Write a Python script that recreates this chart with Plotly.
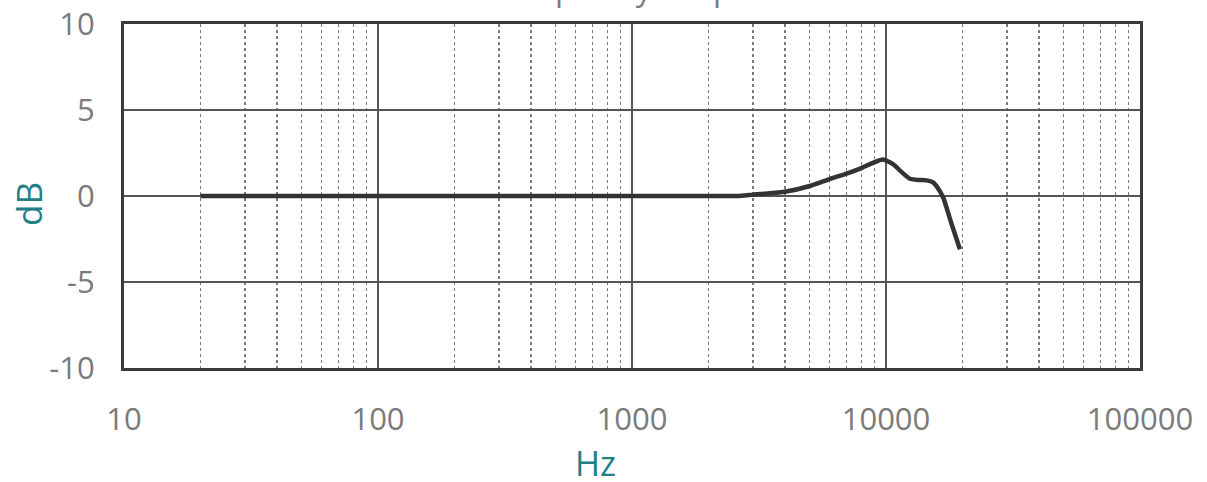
import plotly.graph_objects as go

# Frequency response (Hz, dB)
freq_hz = [20, 50, 100, 300, 1000, 2000, 2590, 3000, 3945, 5020, 6030, 7000, 7910, 8920, 9730,
           10690, 11500, 12420, 13500, 14450, 15300, 15810, 16810, 18000, 19550]
gain_db = [0.0, 0.0, 0.0, 0.0, 0.0, 0.0, 0.0, 0.08, 0.23, 0.58, 1.0, 1.3, 1.59, 1.94, 2.12,
           1.84, 1.4, 1.0, 0.93, 0.91, 0.8, 0.58, -0.1, -1.5, -3.1]

x_tick_vals = [10, 100, 1000, 10000, 100000]
x_tick_text = ["10", "100", "1000", "10000", "100000"]
y_tick_vals = [-10, -5, 0, 5, 10]
y_tick_text = ["-10", "-5", "0", "5", "10"]

title_text = "Frequency Response"
x_title = "Hz"
y_title = "dB"

TEAL = "#227f86"
GREY_TXT = "#7b7b7b"
FONT = "Open Sans, Noto Sans, sans-serif"

fig = go.Figure()
fig.add_trace(go.Scatter(
    x=freq_hz, y=gain_db, mode="lines",
    line=dict(color="#333333", width=4.5, shape="spline", smoothing=0.6),
    hoverinfo="skip", showlegend=False,
))

fig.update_layout(
    width=1207, height=482,
    margin=dict(l=124, r=67, t=24, b=114, autoexpand=False),
    paper_bgcolor="white", plot_bgcolor="white",
    font=dict(family=FONT, color=GREY_TXT, size=31),
    showlegend=False,
    xaxis=dict(
        type="log", range=[1, 5], automargin=False, ticklabeloverflow="allow",
        tickvals=x_tick_vals, ticktext=x_tick_text,
        ticks="outside", ticklen=22, tickcolor="rgba(0,0,0,0)",
        tickfont=dict(size=31, color=GREY_TXT, family=FONT),
        showgrid=True, gridcolor="#5a5a5a", gridwidth=2,
        minor=dict(dtick="D1", showgrid=True, gridcolor="#7a7a7a", griddash="dot", gridwidth=1.5, ticks=""),
        showline=True, linecolor="#3a3a3a", linewidth=3, mirror=True,
        zeroline=False, fixedrange=True,
    ),
    yaxis=dict(
        range=[-10, 10], automargin=False, ticklabeloverflow="allow",
        tickvals=y_tick_vals, ticktext=y_tick_text,
        ticks="outside", ticklen=20, tickcolor="rgba(0,0,0,0)",
        tickfont=dict(size=31, color=GREY_TXT, family=FONT),
        showgrid=True, gridcolor="#555555", gridwidth=2,
        showline=True, linecolor="#3a3a3a", linewidth=3, mirror=True,
        zeroline=False, fixedrange=True,
    ),
    annotations=[
        dict(text=title_text, xref="paper", yref="paper", x=(650 - 124) / (1140 - 124), y=1.0,
             yshift=13, xanchor="center", yanchor="bottom", showarrow=False,
             font=dict(size=32, color=GREY_TXT, family=FONT)),
        dict(text=x_title, xref="paper", yref="paper", x=(595 - 124) / (1140 - 124), y=0,
             yshift=-95, xanchor="center", yanchor="middle", showarrow=False,
             font=dict(size=34, color=TEAL, family=FONT)),
        dict(text=y_title, xref="paper", yref="paper", x=0, y=0.5, xshift=-96, yshift=-8,
             xanchor="center", yanchor="middle", textangle=-90, showarrow=False,
             font=dict(size=35, color=TEAL, family=FONT)),
    ],
)

fig.write_html("out.html", config={"displayModeBar": False, "staticPlot": True},
               post_script="document.body.style.margin='0';document.body.style.overflow='hidden';")
